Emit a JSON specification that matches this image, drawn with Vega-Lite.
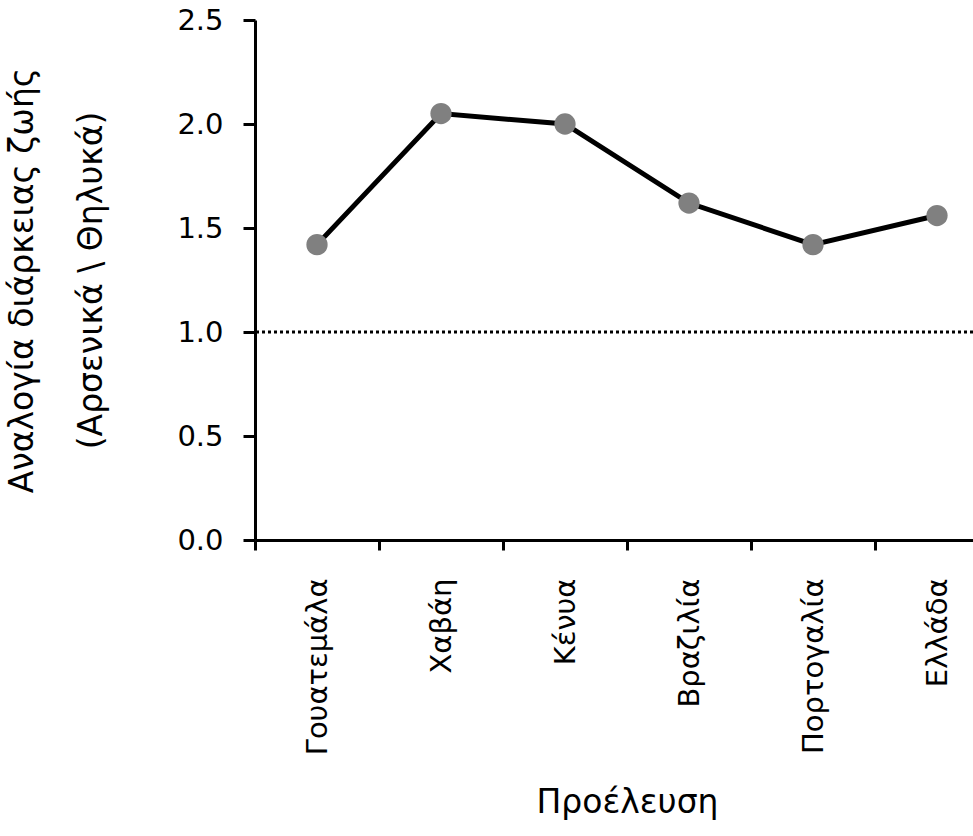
{
  "$schema": "https://vega.github.io/schema/vega-lite/v6.json",
  "autosize": {"type": "none"},
  "padding": {"left": 255, "top": 20, "right": 0, "bottom": 296},
  "width": 718,
  "height": 520,
  "background": "white",
  "config": {
    "view": {"stroke": null},
    "font": "DejaVu Sans",
    "axis": {
      "domainColor": "black", "domainWidth": 3, "tickColor": "black", "tickWidth": 3,
      "labelColor": "black", "titleColor": "black", "labelFont": "DejaVu Sans",
      "titleFont": "DejaVu Sans", "labelFontSize": 29, "titleFontSize": 33,
      "titleFontWeight": "normal", "grid": false
    }
  },
  "data": {
    "values": [
      {"country": "Γουατεμάλα", "ratio": 1.42},
      {"country": "Χαβάη", "ratio": 2.05},
      {"country": "Κένυα", "ratio": 2.0},
      {"country": "Βραζιλία", "ratio": 1.62},
      {"country": "Πορτογαλία", "ratio": 1.42},
      {"country": "Ελλάδα", "ratio": 1.56}
    ]
  },
  "encoding": {
    "x": {
      "field": "country", "type": "nominal", "sort": null,
      "scale": {"type": "band", "range": [0, 744], "paddingInner": 0, "paddingOuter": 0},
      "axis": {
        "title": "Προέλευση", "labelAngle": -90, "tickBand": "extent",
        "tickSize": 10, "labelPadding": 28, "titlePadding": 46
      }
    },
    "y": {
      "field": "ratio", "type": "quantitative",
      "scale": {"domain": [0, 2.5], "nice": false, "zero": true},
      "axis": {
        "title": ["Αναλογία διάρκειας ζωής", "(Αρσενικά \\ Θηλυκά)"],
        "values": [0, 0.5, 1, 1.5, 2, 2.5], "format": ".1f",
        "tickSize": 12, "labelPadding": 20, "titlePadding": 68, "titleLineHeight": 69
      }
    }
  },
  "layer": [
    {
      "data": {"values": [{"ref": 1}]},
      "mark": {"type": "rule", "color": "black", "strokeWidth": 3, "strokeDash": [3, 3]},
      "encoding": {"y": {"field": "ref", "type": "quantitative"}, "x": null}
    },
    {
      "mark": {"type": "line", "color": "black", "strokeWidth": 5}
    },
    {
      "mark": {"type": "point", "filled": true, "shape": "circle", "size": 452, "color": "#808080", "opacity": 1}
    }
  ]
}
